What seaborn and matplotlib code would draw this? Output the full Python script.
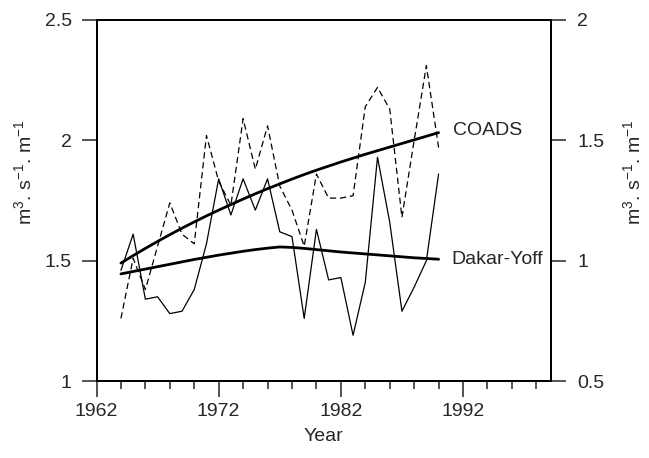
import matplotlib
matplotlib.use("Agg")
import matplotlib.pyplot as plt
import seaborn as sns
import pandas as pd
import numpy as np

years = list(range(1964, 1991))
# COADS annual values (left axis)
coads = [1.26, 1.51, 1.38, 1.56, 1.74, 1.61, 1.57, 2.02, 1.83, 1.73, 2.09, 1.88,
         2.06, 1.81, 1.71, 1.56, 1.86, 1.76, 1.76, 1.77, 2.14, 2.22, 2.13, 1.68,
         2.00, 2.31, 1.97]
# COADS trend (left axis)
coads_trend = [1.490, 1.521, 1.551, 1.580, 1.608, 1.635, 1.661, 1.686, 1.710, 1.733,
               1.756, 1.778, 1.799, 1.819, 1.839, 1.858, 1.876, 1.893, 1.910, 1.926,
               1.942, 1.957, 1.972, 1.987, 2.002, 2.017, 2.032]
# Dakar-Yoff annual values (right axis)
dakar = [0.96, 1.11, 0.84, 0.85, 0.78, 0.79, 0.88, 1.07, 1.34, 1.19, 1.34, 1.21,
         1.34, 1.12, 1.10, 0.76, 1.13, 0.92, 0.93, 0.69, 0.91, 1.43, 1.16, 0.79,
         0.89, 1.00, 1.36]
# Dakar-Yoff trend (right axis)
dakar_trend = [0.945, 0.955, 0.965, 0.975, 0.985, 0.995, 1.005, 1.014, 1.023, 1.031,
               1.039, 1.046, 1.052, 1.057, 1.055, 1.051, 1.046, 1.041, 1.036, 1.032,
               1.028, 1.024, 1.020, 1.016, 1.012, 1.009, 1.006]

left_ticks = [1, 1.5, 2, 2.5]
left_labels = ["1", "1.5", "2", "2.5"]
right_ticks = [0.5, 1, 1.5, 2]
right_labels = ["0.5", "1", "1.5", "2"]
x_ticks = [1962, 1972, 1982, 1992]
x_labels = ["1962", "1972", "1982", "1992"]

df = pd.DataFrame({"Year": years, "coads": coads, "coads_trend": coads_trend,
                   "dakar": dakar, "dakar_trend": dakar_trend})

sns.set_style("ticks")
plt.rcParams["font.family"] = ["Liberation Sans", "DejaVu Sans"]
plt.rcParams["mathtext.default"] = "regular"

fig = plt.figure(figsize=(6.49, 4.58), dpi=100)
ax = fig.add_axes([96.5/649, 1-381/458, (551-96.5)/649, 361/458])
ax2 = ax.twinx()

sns.lineplot(data=df, x="Year", y="coads", ax=ax, color="black", lw=0.9)
ax.lines[-1].set_linestyle((0, (5, 3)))
sns.lineplot(data=df, x="Year", y="coads_trend", ax=ax, color="black", lw=2.0)
sns.lineplot(data=df, x="Year", y="dakar", ax=ax2, color="black", lw=0.9)
sns.lineplot(data=df, x="Year", y="dakar_trend", ax=ax2, color="black", lw=2.0)

fs = 14
ax.set_xlim(1962, 1999.2)
ax.set_ylim(1, 2.5)
ax2.set_ylim(0.5, 2)
ax.set_xticks(x_ticks)
ax.set_xticklabels(x_labels, fontsize=fs)
ax.set_xticks(np.arange(1962, 1999, 2), minor=True)
ax.set_yticks(left_ticks)
ax.set_yticklabels(left_labels, fontsize=fs)
ax2.set_yticks(right_ticks)
ax2.set_yticklabels(right_labels, fontsize=fs)

ax.tick_params(axis="x", which="major", direction="out", length=11.5, width=1.1, pad=4)
ax.tick_params(axis="x", which="minor", direction="out", length=5.8, width=1.1)
ax.tick_params(axis="y", which="major", direction="out", length=10.8, width=1.1, pad=7)
ax2.tick_params(axis="y", which="major", direction="out", length=10.8, width=1.1, pad=8)

for a in (ax, ax2):
    for s in a.spines.values():
        s.set_visible(True)
        s.set_linewidth(1.4)
        s.set_color("black")

ax.set_xlabel("Year", fontsize=fs)
ax.xaxis.set_label_coords(0.5, -0.13)
ylab = "m$^3$. s$^{-1}$. m$^{-1}$"
ax.set_ylabel(ylab, fontsize=fs)
ax.yaxis.set_label_coords(-0.135, 0.578)
ax2.set_ylabel(ylab, fontsize=fs)
ax2.yaxis.set_label_coords(1.1556, 0.578)

ax.text(1991.15, 2.039, "COADS", fontsize=fs, ha="left", va="center")
ax2.text(1991.05, 1.005, "Dakar-Yoff", fontsize=fs, ha="left", va="center")

fig.savefig("out.png", dpi=100)
